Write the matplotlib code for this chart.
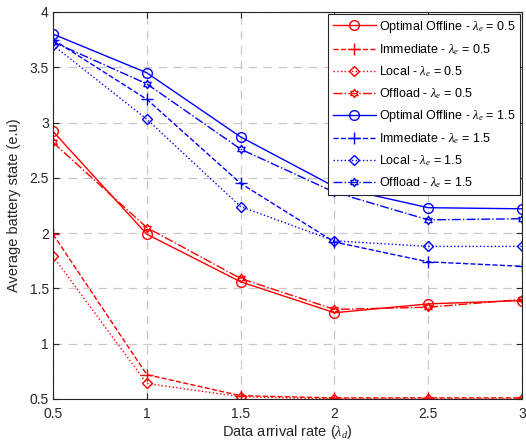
import numpy as np
import matplotlib
matplotlib.use('Agg')
import matplotlib.pyplot as plt
from matplotlib.path import Path

plt.rcParams['font.family'] = ['Liberation Sans', 'DejaVu Sans']
plt.rcParams['mathtext.fontset'] = 'custom'
plt.rcParams['mathtext.rm'] = 'Liberation Serif'
plt.rcParams['mathtext.it'] = 'Liberation Serif:italic'

x = [0.5, 1, 1.5, 2, 2.5, 3]

# lambda_e = 0.5
opt_05 = [2.92, 1.99, 1.56, 1.28, 1.36, 1.39]
imm_05 = [1.99, 0.72, 0.53, 0.51, 0.51, 0.51]
loc_05 = [1.79, 0.64, 0.52, 0.50, 0.50, 0.50]
off_05 = [2.82, 2.05, 1.59, 1.31, 1.33, 1.40]

# lambda_e = 1.5
opt_15 = [3.80, 3.45, 2.87, 2.42, 2.23, 2.22]
imm_15 = [3.75, 3.21, 2.45, 1.92, 1.74, 1.70]
loc_15 = [3.70, 3.03, 2.24, 1.93, 1.88, 1.88]
off_15 = [3.73, 3.35, 2.76, 2.37, 2.12, 2.13]


def hexagram():
    ang = np.pi / 2 + np.arange(12) * np.pi / 6
    r = np.where(np.arange(12) % 2 == 0, 1.0, 0.58)
    v = np.column_stack([r * np.cos(ang), r * np.sin(ang)])
    v = np.vstack([v, v[:1]])
    return Path(v, closed=True)


hexa = hexagram()

fig = plt.figure(figsize=(5.26, 4.44), dpi=100)
ax = fig.add_axes([0.1008, 0.1014, 0.8916, 0.8716])

le = r'$\lambda_e$'
ax.plot(x, opt_05, 'r-', marker='o', mfc='none', ms=7, lw=1, label='Optimal Offline - ' + le + ' = 0.5')
ax.plot(x, imm_05, 'r--', marker='+', ms=9, lw=1, label='Immediate - ' + le + ' = 0.5')
ax.plot(x, loc_05, 'r:', marker='D', mfc='none', ms=5.5, lw=1, label='Local - ' + le + ' = 0.5')
ax.plot(x, off_05, 'r-.', marker=hexa, mfc='none', ms=6, lw=1, label='Offload - ' + le + ' = 0.5')
ax.plot(x, opt_15, 'b-', marker='o', mfc='none', ms=7, lw=1, label='Optimal Offline - ' + le + ' = 1.5')
ax.plot(x, imm_15, 'b--', marker='+', ms=9, lw=1, label='Immediate - ' + le + ' = 1.5')
ax.plot(x, loc_15, 'b:', marker='D', mfc='none', ms=5.5, lw=1, label='Local - ' + le + ' = 1.5')
ax.plot(x, off_15, 'b-.', marker=hexa, mfc='none', ms=6, lw=1, label='Offload - ' + le + ' = 1.5')

ax.set_xlim(0.5, 3)
ax.set_ylim(0.5, 4)
ax.set_xticks([0.5, 1, 1.5, 2, 2.5, 3])
ax.set_xticklabels(['0.5', '1', '1.5', '2', '2.5', '3'])
ax.set_yticks([0.5, 1, 1.5, 2, 2.5, 3, 3.5, 4])
ax.set_yticklabels(['0.5', '1', '1.5', '2', '2.5', '3', '3.5', '4'])
ax.grid(True, ls=(0, (7, 5)), color='#c8c8c8', lw=0.9)
ax.tick_params(direction='in', labelsize=10, colors='#262626', length=4,
               top=True, right=True)
ax.tick_params(axis='x', pad=6)
ax.tick_params(axis='y', pad=3)
for s in ax.spines.values():
    s.set_color('#262626')
    s.set_linewidth(0.8)

ax.set_xlabel('Data arrival rate (' + r'$\lambda_d$' + ')', fontsize=10.5, color='#262626', labelpad=1)
ax.set_ylabel('Average battery state (e.u)', fontsize=10.5, color='#262626', labelpad=6)

leg = ax.legend(loc='upper right', fontsize=9, fancybox=False, framealpha=1,
                edgecolor='#262626', borderaxespad=0.15, handlelength=3.4,
                labelspacing=0.58, handletextpad=0.25, borderpad=0.4)
leg.get_frame().set_linewidth(0.8)

fig.savefig('out.png', dpi=100)
